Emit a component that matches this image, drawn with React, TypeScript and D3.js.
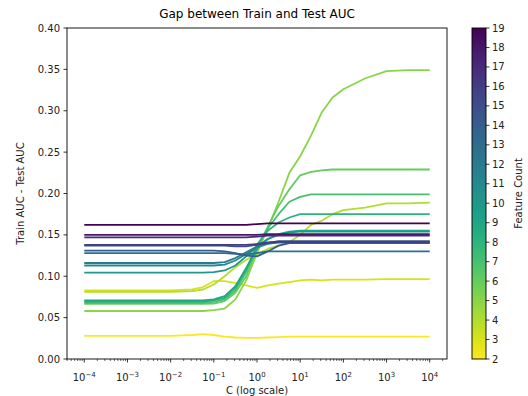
import React, { useEffect, useRef } from 'react';
import * as d3 from 'd3';

// C grid (log spaced)
const cValues = [1e-4, 1e-3, 1e-2, 0.0316, 0.0562, 0.1, 0.178, 0.316, 0.562, 1, 1.78, 3.16, 5.62, 10, 17.8, 31.6, 56.2, 100, 316, 1000, 3162, 10000];

const featureCounts = [2, 3, 4, 5, 6, 7, 8, 9, 10, 11, 12, 13, 14, 15, 16, 17, 18, 19];

const gap2 = [0.028, 0.028, 0.028, 0.029, 0.030, 0.029, 0.027, 0.026, 0.0255, 0.0255, 0.026, 0.0265, 0.027, 0.027, 0.027, 0.027, 0.027, 0.027, 0.027, 0.027, 0.027, 0.027];
const gap3 = [0.083, 0.083, 0.083, 0.084, 0.087, 0.094, 0.094, 0.092, 0.089, 0.086, 0.089, 0.091, 0.093, 0.095, 0.096, 0.095, 0.096, 0.096, 0.096, 0.0965, 0.0965, 0.0965];
const gap4 = [0.081, 0.081, 0.081, 0.082, 0.084, 0.090, 0.100, 0.111, 0.120, 0.127, 0.133, 0.137, 0.141, 0.150, 0.162, 0.167, 0.175, 0.180, 0.183, 0.188, 0.188, 0.189];
const gap5 = [0.058, 0.058, 0.058, 0.058, 0.058, 0.059, 0.061, 0.072, 0.095, 0.128, 0.158, 0.190, 0.225, 0.245, 0.270, 0.298, 0.316, 0.326, 0.339, 0.348, 0.349, 0.349];
const gap6 = [0.0665, 0.0665, 0.0665, 0.0665, 0.0665, 0.067, 0.070, 0.080, 0.100, 0.132, 0.160, 0.185, 0.205, 0.222, 0.226, 0.228, 0.229, 0.229, 0.229, 0.229, 0.229, 0.229];
const gap7 = [0.068, 0.068, 0.068, 0.068, 0.068, 0.069, 0.072, 0.083, 0.105, 0.137, 0.158, 0.175, 0.190, 0.196, 0.199, 0.199, 0.199, 0.199, 0.199, 0.199, 0.199, 0.199];
const gap8 = [0.0695, 0.0695, 0.0695, 0.0695, 0.0695, 0.071, 0.074, 0.086, 0.108, 0.138, 0.155, 0.165, 0.171, 0.175, 0.175, 0.175, 0.175, 0.175, 0.175, 0.175, 0.175, 0.175];
const gap9 = [0.0707, 0.0707, 0.0707, 0.0707, 0.0707, 0.072, 0.076, 0.088, 0.110, 0.133, 0.145, 0.151, 0.154, 0.155, 0.155, 0.155, 0.155, 0.155, 0.155, 0.155, 0.155, 0.155];
const gap10 = [0.1045, 0.1045, 0.1045, 0.1045, 0.1045, 0.105, 0.107, 0.113, 0.124, 0.136, 0.145, 0.150, 0.153, 0.154, 0.154, 0.154, 0.154, 0.154, 0.154, 0.154, 0.154, 0.154];
const gap11 = [0.113, 0.113, 0.113, 0.113, 0.113, 0.113, 0.114, 0.119, 0.127, 0.135, 0.139, 0.141, 0.141, 0.141, 0.141, 0.141, 0.141, 0.141, 0.141, 0.141, 0.141, 0.141];
const gap12 = [0.116, 0.116, 0.116, 0.116, 0.116, 0.116, 0.117, 0.122, 0.129, 0.136, 0.140, 0.142, 0.142, 0.142, 0.142, 0.142, 0.142, 0.142, 0.142, 0.142, 0.142, 0.142];
const gap13 = [0.128, 0.128, 0.128, 0.128, 0.128, 0.128, 0.128, 0.127, 0.126, 0.128, 0.130, 0.130, 0.130, 0.130, 0.130, 0.130, 0.130, 0.130, 0.130, 0.130, 0.130, 0.130];
const gap14 = [0.131, 0.131, 0.131, 0.131, 0.131, 0.131, 0.130, 0.128, 0.125, 0.124, 0.130, 0.137, 0.140, 0.140, 0.140, 0.140, 0.140, 0.140, 0.140, 0.140, 0.140, 0.140];
const gap15 = [0.137, 0.137, 0.137, 0.137, 0.137, 0.137, 0.137, 0.136, 0.136, 0.138, 0.140, 0.141, 0.141, 0.141, 0.141, 0.141, 0.141, 0.141, 0.141, 0.141, 0.141, 0.141];
const gap16 = [0.138, 0.138, 0.138, 0.138, 0.138, 0.138, 0.138, 0.138, 0.138, 0.139, 0.141, 0.142, 0.142, 0.142, 0.142, 0.142, 0.142, 0.142, 0.142, 0.142, 0.142, 0.142];
const gap17 = [0.147, 0.147, 0.147, 0.147, 0.147, 0.147, 0.147, 0.147, 0.147, 0.148, 0.149, 0.149, 0.149, 0.149, 0.149, 0.149, 0.149, 0.149, 0.149, 0.149, 0.149, 0.149];
const gap18 = [0.150, 0.150, 0.150, 0.150, 0.150, 0.150, 0.150, 0.150, 0.150, 0.150, 0.151, 0.151, 0.151, 0.151, 0.151, 0.151, 0.151, 0.151, 0.151, 0.151, 0.151, 0.151];
const gap19 = [0.162, 0.162, 0.162, 0.162, 0.162, 0.162, 0.162, 0.162, 0.162, 0.163, 0.164, 0.164, 0.164, 0.164, 0.164, 0.164, 0.164, 0.164, 0.164, 0.164, 0.164, 0.164];

const gapSeries = [gap2, gap3, gap4, gap5, gap6, gap7, gap8, gap9, gap10, gap11, gap12, gap13, gap14, gap15, gap16, gap17, gap18, gap19];

const yTicks = [0, 0.05, 0.1, 0.15, 0.2, 0.25, 0.3, 0.35, 0.4];
const xDecades = [-4, -3, -2, -1, 0, 1, 2, 3, 4];

const App = () => {
    const svgRef = useRef(null);

    useEffect(() => {
        const svg = d3.select(svgRef.current);
        svg.selectAll('*').remove();

        const font = 'DejaVu Sans, sans-serif';
        const plot = { left: 67, top: 28, right: 447, bottom: 359 };
        const bar = { left: 472, right: 486 };

        const x = d3.scaleLog().domain([10 ** -4.4, 10 ** 4.4]).range([plot.left, plot.right]);
        const y = d3.scaleLinear().domain([0, 0.4]).range([plot.bottom, plot.top]);
        const cScale = d3.scaleLinear().domain([2, 19]).range([plot.bottom, plot.top]);
        const color = (f: number) => d3.interpolateViridis(1 - (f - 2) / 17);

        // title
        svg.append('text')
            .attr('x', (plot.left + plot.right) / 2)
            .attr('y', 18)
            .attr('text-anchor', 'middle')
            .style('font-family', font)
            .style('font-size', '12px')
            .text('Gap between Train and Test AUC');

        // lines
        const line = d3.line<number>()
            .x((d, i) => x(cValues[i]))
            .y(d => y(d));

        gapSeries.forEach((series, i) => {
            svg.append('path')
                .datum(series)
                .attr('fill', 'none')
                .attr('stroke', color(featureCounts[i]))
                .attr('stroke-width', 1.8)
                .attr('stroke-linejoin', 'round')
                .attr('d', line);
        });

        // frame
        svg.append('rect')
            .attr('x', plot.left)
            .attr('y', plot.top)
            .attr('width', plot.right - plot.left)
            .attr('height', plot.bottom - plot.top)
            .attr('fill', 'none')
            .attr('stroke', 'black')
            .attr('stroke-width', 0.9);

        // y ticks
        yTicks.forEach(t => {
            svg.append('line')
                .attr('x1', plot.left - 3.5).attr('x2', plot.left)
                .attr('y1', y(t)).attr('y2', y(t))
                .attr('stroke', 'black').attr('stroke-width', 0.8);
            svg.append('text')
                .attr('x', plot.left - 7)
                .attr('y', y(t))
                .attr('dy', '0.35em')
                .attr('text-anchor', 'end')
                .style('font-family', font)
                .style('font-size', '10px')
                .attr('fill', '#222')
                .text(t.toFixed(2));
        });

        // x minor ticks
        for (let k = -5; k <= 4; k++) {
            for (let m = 2; m <= 9; m++) {
                const v = m * 10 ** k;
                if (v < x.domain()[0] || v > x.domain()[1]) continue;
                svg.append('line')
                    .attr('x1', x(v)).attr('x2', x(v))
                    .attr('y1', plot.bottom).attr('y2', plot.bottom + 2)
                    .attr('stroke', 'black').attr('stroke-width', 0.6);
            }
        }

        // x major ticks
        xDecades.forEach(e => {
            const px = x(10 ** e);
            svg.append('line')
                .attr('x1', px).attr('x2', px)
                .attr('y1', plot.bottom).attr('y2', plot.bottom + 3.5)
                .attr('stroke', 'black').attr('stroke-width', 0.8);
            const label = svg.append('text')
                .attr('x', px)
                .attr('y', 381)
                .attr('text-anchor', 'middle')
                .style('font-family', font)
                .style('font-size', '10px')
                .attr('fill', '#222');
            label.append('tspan').text('10');
            label.append('tspan')
                .attr('dy', -4)
                .style('font-size', '7px')
                .text(e < 0 ? '\u2212' + Math.abs(e) : String(e));
        });

        // axis labels
        svg.append('text')
            .attr('x', (plot.left + plot.right) / 2)
            .attr('y', 394)
            .attr('text-anchor', 'middle')
            .style('font-family', font)
            .style('font-size', '10px')
            .attr('fill', '#222')
            .text('C (log scale)');

        svg.append('text')
            .attr('transform', `translate(24,${(plot.top + plot.bottom) / 2}) rotate(-90)`)
            .attr('text-anchor', 'middle')
            .style('font-family', font)
            .style('font-size', '10px')
            .attr('fill', '#222')
            .text('Train AUC - Test AUC');

        // colorbar
        const grad = svg.append('defs').append('linearGradient')
            .attr('id', 'cbar')
            .attr('x1', 0).attr('y1', 1).attr('x2', 0).attr('y2', 0);
        d3.range(0, 1.0001, 0.05).forEach(t => {
            grad.append('stop')
                .attr('offset', t)
                .attr('stop-color', d3.interpolateViridis(1 - t));
        });
        svg.append('rect')
            .attr('x', bar.left)
            .attr('y', plot.top)
            .attr('width', bar.right - bar.left)
            .attr('height', plot.bottom - plot.top)
            .attr('fill', 'url(#cbar)')
            .attr('stroke', 'black')
            .attr('stroke-width', 0.9);

        featureCounts.forEach(f => {
            svg.append('line')
                .attr('x1', bar.right).attr('x2', bar.right + 3.5)
                .attr('y1', cScale(f)).attr('y2', cScale(f))
                .attr('stroke', 'black').attr('stroke-width', 0.8);
            svg.append('text')
                .attr('x', bar.right + 6)
                .attr('y', cScale(f))
                .attr('dy', '0.35em')
                .style('font-family', font)
                .style('font-size', '10px')
                .attr('fill', '#222')
                .text(f);
        });

        svg.append('text')
            .attr('transform', `translate(522,${(plot.top + plot.bottom) / 2}) rotate(-90)`)
            .attr('text-anchor', 'middle')
            .style('font-family', font)
            .style('font-size', '10px')
            .attr('fill', '#222')
            .text('Feature Count');
    }, []);

    return (
        <svg
            ref={svgRef}
            width={528}
            height={396}
            style={{ position: 'absolute', left: 0, top: 0, background: 'white' }}
        />
    );
};

export default App;
